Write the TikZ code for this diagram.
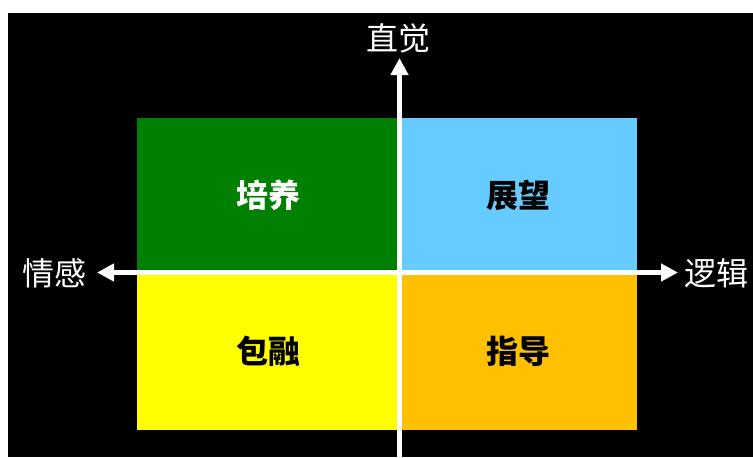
\documentclass[tikz,border=0pt]{standalone}
\usepackage{fontspec}
\newfontfamily\cjk{Noto Sans CJK SC}
\usetikzlibrary{arrows.meta}
\definecolor{quadgreen}{RGB}{0,128,0}
\definecolor{quadblue}{RGB}{102,204,255}
\definecolor{quadyellow}{RGB}{255,255,0}
\definecolor{quadorange}{RGB}{255,192,0}
\tikzset{
  quad/.style={inner sep=0pt, font=\cjk\bfseries\fontsize{16}{19}\selectfont},
  axislabel/.style={text=white, font=\cjk\fontsize{16}{19}\selectfont},
  axis/.style={white, line width=2.25pt, -{Triangle[width=8.5pt,length=8.5pt]}},
}
\begin{document}
\begin{tikzpicture}[x=0.5pt,y=-0.5pt]
        \fill[white] (0,0) rectangle (753,457);
        \fill[black] (8,13) rectangle (753,457);
        \useasboundingbox (0,0) rectangle (753,457);
        % quadrants
        \node[quad, fill=quadgreen, text=white, minimum width=131.25pt, minimum height=77.25pt] (peiyang) at (268.25,195.25) {培养};
        \node[quad, fill=quadblue, minimum width=118.75pt, minimum height=77.25pt] (zhanwang) at (518.25,195.25) {展望};
        \node[quad, fill=quadyellow, minimum width=131.25pt, minimum height=78.75pt] (baorong) at (268.25,351.25) {包融};
        \node[quad, fill=quadorange, minimum width=118.75pt, minimum height=78.75pt] (zhidao) at (518.25,351.25) {指导};
        % axes
        \coordinate (top) at (399.5,58);
        \coordinate (bottom) at (399.5,457);
        \coordinate (left) at (97,272.5);
        \coordinate (right) at (678,272.5);
        \draw[axis] (bottom) -- (top);
        \draw[axis, {Triangle[width=8.5pt,length=8.5pt]}-{Triangle[width=8.5pt,length=8.5pt]}] (left) -- (right);
        \node[axislabel] (zhijue) at (398,38) {直觉};
        \node[axislabel] (qinggan) at (54,273) {情感};
        \node[axislabel] (luoji) at (716,273) {逻辑};
    \end{tikzpicture}
\end{document}
